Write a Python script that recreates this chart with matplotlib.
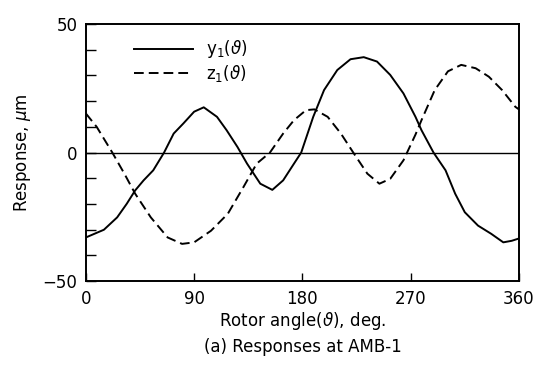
import matplotlib
matplotlib.use("Agg")
import matplotlib.pyplot as plt

# values (deg, micrometres)
y1_deg = [0, 15, 26, 34, 41, 48, 56, 65, 73, 81, 90, 98, 109, 117, 126, 134, 145,
          155, 164, 173, 179, 189, 198, 209, 220, 231, 242, 253, 264, 274, 279, 289,
          299, 307, 315, 326, 337, 347, 354, 360]
y1_val = [-33, -30, -25.2, -19.9, -14.7, -10.8, -6.9, 0, 7.4, 11.3, 15.9, 17.6, 13.9,
          8.7, 2.2, -4.3, -12.1, -14.5, -10.8, -4.3, 0, 13.9, 24.3, 32.1, 36.3, 37.1,
          35.4, 30.2, 23, 13.9, 8.7, 0, -6.9, -16, -23.2, -28.4, -31.6, -34.9, -34.3,
          -33.4]

z1_deg = [0, 9, 22, 32, 41, 54, 68, 80, 90, 104, 118, 131, 142, 153, 164, 173, 183,
          190, 201, 212, 223, 234, 244, 253, 264, 274, 279, 290, 301, 312, 324, 335,
          346, 357, 360]
z1_val = [15.2, 10, 0, -8.2, -16, -25.2, -33, -35.5, -34.9, -30.4, -23.8, -13.4, -4.3,
          0, 7.4, 12.6, 16.5, 16.8, 13.9, 7.4, -0.5, -8.2, -12.1, -10.2, -3, 7, 12.6,
          24.3, 31.6, 34.1, 32.8, 29.5, 24.3, 17.8, 16.8]

y_ticks = list(range(-50, 51, 10))
y_ticklabels = {-50: '\u221250', 0: '0', 50: '50'}

plt.rcParams['font.family'] = ['DejaVu Sans']
plt.rcParams['mathtext.fontset'] = 'dejavusans'

fig = plt.figure(figsize=(5.4, 3.69), dpi=100)
ax = fig.add_axes([0.159, 0.238, 0.802, 0.697])

ax.plot(y1_deg, y1_val, color='black', lw=1.4, solid_joinstyle='round',
        label=r'y$_1$($\vartheta$)')
ax.plot(z1_deg, z1_val, color='black', lw=1.4, linestyle=(0, (5, 2.6)),
        label=r'z$_1$($\vartheta$)')
ax.axhline(0, color='black', lw=1.0)

ax.set_xlim(0, 360)
ax.set_ylim(-50, 50)
ax.set_xticks([0, 90, 180, 270, 360])
ax.set_yticks(y_ticks)
ax.set_yticklabels([y_ticklabels.get(v, '') for v in y_ticks])
ax.tick_params(axis='y', direction='in', length=7, width=1.0, labelsize=12, pad=6)
ax.tick_params(axis='x', direction='in', length=6, width=1.0, labelsize=12, pad=6)
for s in ax.spines.values():
    s.set_linewidth(1.4)

ax.set_ylabel(r'Response, $\mu$m', fontsize=12, labelpad=7)
ax.set_xlabel(r'Rotor angle($\vartheta$), deg.', fontsize=12, labelpad=2)
fig.text(0.56, 0.045, '(a) Responses at AMB-1', fontsize=12, ha='center')

ax.legend(loc='upper left', bbox_to_anchor=(0.076, 1.002), frameon=False,
          fontsize=12, handlelength=3.55, handletextpad=0.8, labelspacing=0.15)

fig.savefig('out.png', dpi=100)
